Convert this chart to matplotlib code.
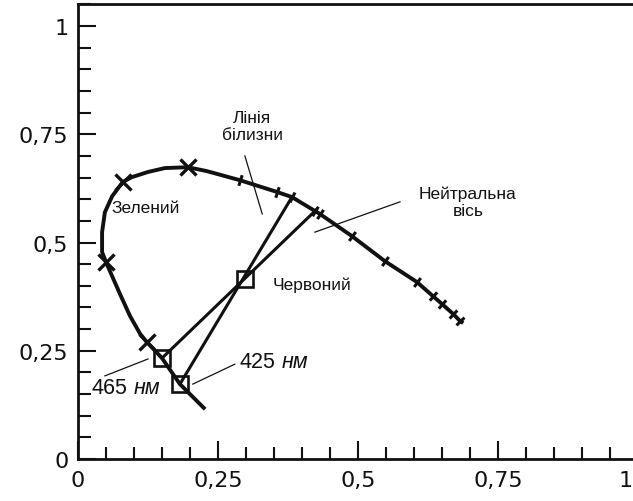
import numpy as np
import matplotlib
matplotlib.use('Agg')
import matplotlib.pyplot as plt
from matplotlib.ticker import MultipleLocator, FuncFormatter

# Spectral locus (from the short end up to the long end)
locus_x = [0.227, 0.182, 0.150, 0.123, 0.111, 0.093, 0.075, 0.057, 0.050, 0.043,
           0.043, 0.048, 0.061, 0.080, 0.096, 0.125, 0.155, 0.196, 0.230, 0.289,
           0.355, 0.382, 0.423, 0.432, 0.489, 0.548, 0.605, 0.634, 0.650, 0.670,
           0.682, 0.688]
locus_y = [0.115, 0.173, 0.233, 0.270, 0.289, 0.330, 0.381, 0.434, 0.455, 0.478,
           0.524, 0.570, 0.607, 0.640, 0.651, 0.663, 0.672, 0.674, 0.665, 0.644,
           0.617, 0.605, 0.573, 0.566, 0.515, 0.457, 0.409, 0.376, 0.358, 0.335,
           0.319, 0.314]

# big crosses on the locus
cross_x = [0.123, 0.050, 0.080, 0.196]
cross_y = [0.270, 0.455, 0.640, 0.674]

# small marks across the locus
tick_x = [0.289, 0.355, 0.382, 0.423, 0.432, 0.489, 0.548, 0.605, 0.634, 0.650, 0.670, 0.682]
tick_y = [0.644, 0.617, 0.605, 0.573, 0.566, 0.515, 0.457, 0.409, 0.376, 0.358, 0.335, 0.319]

# squares: 425 nm, 465 nm, red primary
sq_x = [0.182, 0.150, 0.298]
sq_y = [0.173, 0.233, 0.416]

# the two straight lines
lineA_x = [0.182, 0.382]
lineA_y = [0.173, 0.605]
lineB_x = [0.150, 0.425]
lineB_y = [0.233, 0.575]

# thin leader lines
leaders = [
    ([0.298, 0.329], [0.700, 0.566]),   # Лінія білизни
    ([0.575, 0.423], [0.594, 0.524]),   # Нейтральна вісь
    ([0.048, 0.125], [0.192, 0.231]),   # 465 нм
    ([0.205, 0.280], [0.173, 0.219]),   # 425 нм
]

fig = plt.figure(figsize=(6.33, 5.02), dpi=100)
# axes run a little past the right edge, like the original
ax = fig.add_axes([78 / 633, 42 / 502, 560 / 633, 455 / 502])
ax.set_xlim(0, 1)
ax.set_ylim(0, 1.051)

ink = '#111111'

ax.plot(locus_x, locus_y, color=ink, lw=2.8, solid_capstyle='butt',
        solid_joinstyle='round', zorder=3)
ax.plot(lineA_x, lineA_y, color=ink, lw=2.2, zorder=3)
ax.plot(lineB_x, lineB_y, color=ink, lw=2.2, zorder=3)
for lx, ly in leaders:
    ax.plot(lx, ly, color=ink, lw=0.9, zorder=2)

ax.plot(cross_x, cross_y, ls='none', marker='x', ms=11, mew=2.4, color=ink, zorder=4)

# perpendicular marks: angle from the local direction in pixels
px = np.array(tick_x) * 560
py = np.array(tick_y) * 433
ang = np.degrees(np.arctan2(np.gradient(py), np.gradient(px)))
for x, y, a in zip(tick_x, tick_y, ang):
    ax.plot([x], [y], ls='none', marker=(2, 0, a), ms=8, mew=2.2, color=ink, zorder=4)

ax.plot(sq_x, sq_y, ls='none', marker='s', ms=11, mfc='none', mec=ink, mew=1.9, zorder=5)

# labels
tf = 'Liberation Sans'
ax.text(0.311, 0.769, 'Лінія\nбілизни', ha='center', va='center', fontsize=12.5,
        family=tf, linespacing=1.15, color=ink)
ax.text(0.121, 0.580, 'Зелений', ha='center', va='center', fontsize=12.5, family=tf, color=ink)
ax.text(0.418, 0.404, 'Червоний', ha='center', va='center', fontsize=12.5, family=tf, color=ink)
ax.text(0.696, 0.594, 'Нейтральна\nвісь', ha='center', va='center', fontsize=12.5,
        family=tf, linespacing=1.15, color=ink)

t1 = ax.text(0.025, 0.166, '465', ha='left', va='center', fontsize=15.5, family=tf, color=ink)
ax.annotate('нм', xy=(1, 0), xycoords=t1, xytext=(4, 0), textcoords='offset points',
            va='bottom', ha='left', fontsize=15.5, family=tf, style='italic', color=ink)
t2 = ax.text(0.289, 0.226, '425', ha='left', va='center', fontsize=15.5, family=tf, color=ink)
ax.annotate('нм', xy=(1, 0), xycoords=t2, xytext=(4, 0), textcoords='offset points',
            va='bottom', ha='left', fontsize=15.5, family=tf, style='italic', color=ink)

# axes look
for side in ['left', 'bottom', 'top', 'right']:
    ax.spines[side].set_linewidth(2)
    ax.spines[side].set_color(ink)


def comma(v, pos):
    if abs(v) < 1e-9:
        return '0'
    return f'{v:g}'.replace('.', ',')


def comma_x(v, pos):
    # the "1" is drawn by hand below
    if abs(v - 1) < 1e-9:
        return ''
    return comma(v, pos)


ax.xaxis.set_major_locator(MultipleLocator(0.25))
ax.xaxis.set_minor_locator(MultipleLocator(0.05))
ax.yaxis.set_major_locator(MultipleLocator(0.25))
ax.yaxis.set_minor_locator(MultipleLocator(0.05))
ax.xaxis.set_major_formatter(FuncFormatter(comma_x))
ax.yaxis.set_major_formatter(FuncFormatter(comma))
ax.tick_params(which='major', direction='in', length=13, width=1.5, color=ink,
               labelsize=16, labelcolor=ink, top=False, right=False)
ax.tick_params(which='minor', direction='in', length=9, width=1.5, color=ink,
               top=False, right=False)
ax.tick_params(axis='x', which='major', pad=8)
ax.tick_params(axis='y', which='major', pad=7)
ax.set_ylim(0, 1.051)
ax.get_xticklabels()[0].set_ha('left')

# the "1" at the far right sits on the picture's edge
ax.annotate('1', xy=(1, 0), xytext=(-4, -8), textcoords='offset points',
            ha='right', va='top', fontsize=16, color=ink, annotation_clip=False)

fig.savefig('out.png', dpi=100)
